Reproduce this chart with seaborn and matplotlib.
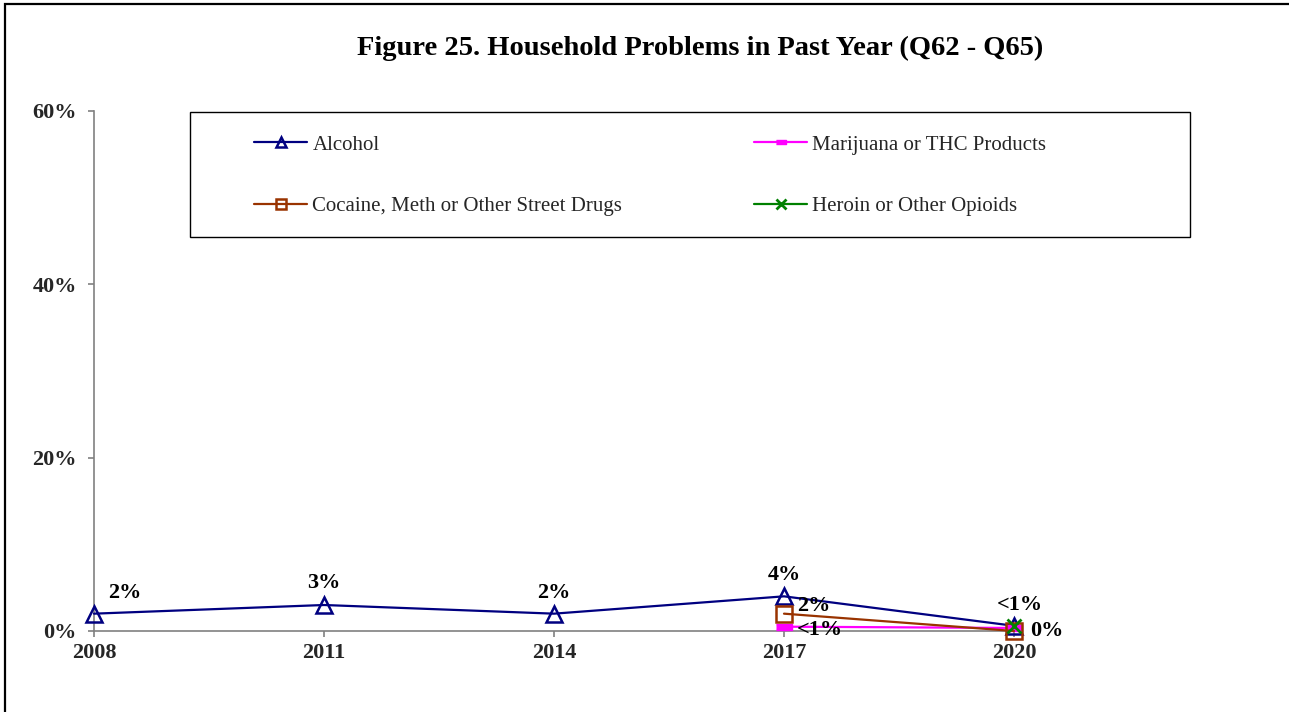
import matplotlib
matplotlib.use("Agg")
import matplotlib.pyplot as plt
from matplotlib.patches import Rectangle
from matplotlib.lines import Line2D
import seaborn as sns
import pandas as pd

# Survey years and percentage of households reporting each problem
years = [2008, 2011, 2014, 2017, 2020]
alcohol = [2.0, 3.0, 2.0, 4.0, 0.6]
marijuana_years = [2017, 2020]
marijuana = [0.5, 0.35]
cocaine_years = [2017, 2020]
cocaine = [2.0, 0.0]
heroin_years = [2020]
heroin = [0.6]

series_names = ["Alcohol", "Marijuana or THC Products",
                "Cocaine, Meth or Other Street Drugs", "Heroin or Other Opioids"]
y_ticks = [0, 20, 40, 60]
title = "Figure 25. Household Problems in Past Year (Q62 - Q65)"

alcohol_labels = ["2%", "3%", "2%", "4%", "<1%"]
cocaine_labels = {2017: "2%", 2020: "0%"}
marijuana_labels = {2017: "<1%"}

sns.set_theme(style="white")
plt.rcParams["font.family"] = ["Liberation Serif", "DejaVu Serif"]

W, H = 1289, 712
fig = plt.figure(figsize=(W / 100, H / 100), dpi=100)
fig.patch.set_facecolor("white")

def fx(px):
    return px / W

def fy(py):
    return 1 - py / H

ax = fig.add_axes([fx(94), fy(631), fx(1014) - fx(94), fy(111) - fy(631)])

frames = {
    "Alcohol": pd.DataFrame({"year": years, "pct": alcohol}),
    "Marijuana or THC Products": pd.DataFrame({"year": marijuana_years, "pct": marijuana}),
    "Cocaine, Meth or Other Street Drugs": pd.DataFrame({"year": cocaine_years, "pct": cocaine}),
    "Heroin or Other Opioids": pd.DataFrame({"year": heroin_years, "pct": heroin}),
}

# Flat bar-shaped marker for the marijuana series
flat_bar = [(-1, -0.35), (1, -0.35), (1, 0.35), (-1, 0.35)]

styles = {
    "Alcohol": dict(color="#000080", marker="^", markersize=12,
                    markerfacecolor="none", markeredgecolor="#000080",
                    markeredgewidth=1.8),
    "Marijuana or THC Products": dict(color="#FF00FF", marker=flat_bar, markersize=11,
                                      markerfacecolor="#FF00FF",
                                      markeredgecolor="#FF00FF", markeredgewidth=1.0),
    "Cocaine, Meth or Other Street Drugs": dict(color="#993300", marker="s", markersize=12,
                                                markerfacecolor="none",
                                                markeredgecolor="#993300",
                                                markeredgewidth=1.8),
    "Heroin or Other Opioids": dict(color="#008000", marker="x", markersize=10,
                                    markeredgecolor="#008000", markeredgewidth=2.0),
}

for name in series_names:
    sns.lineplot(data=frames[name], x="year", y="pct", ax=ax, linewidth=1.6,
                 legend=False, clip_on=False, zorder=3, **styles[name])

ax.set_xlim(years[0], years[-1])
ax.set_ylim(0, 60)
ax.set_xticks(years)
ax.set_xticklabels([str(y) for y in years])
ax.set_yticks(y_ticks)
ax.set_yticklabels([f"{t}%" for t in y_ticks])
ax.set_xlabel("")
ax.set_ylabel("")

for side in ["top", "right"]:
    ax.spines[side].set_visible(False)
for side in ["left", "bottom"]:
    ax.spines[side].set_color("#808080")
    ax.spines[side].set_linewidth(1.2)
ax.tick_params(axis="both", which="major", direction="out", length=4.5, width=1.2,
               color="#808080", labelsize=16, left=True, bottom=True)
ax.tick_params(axis="y", pad=8)
ax.tick_params(axis="x", pad=4.5)
for lab in ax.get_xticklabels() + ax.get_yticklabels():
    lab.set_fontweight("bold")

def label(x, y, text, dx, dy, ha="center"):
    ax.annotate(text, (x, y), xytext=(dx, dy), textcoords="offset pixels",
                ha=ha, va="center", fontsize=16, fontweight="bold",
                color="black", annotation_clip=False, zorder=5)

alcohol_offsets = [(31, 21, "center"), (0, 22, "center"), (0, 21, "center"),
                   (0, 21, "center"), (6, 21, "center")]
for yr, v, t, (dx, dy, ha) in zip(years, alcohol, alcohol_labels, alcohol_offsets):
    label(yr, v, t, dx, dy, ha)
for yr, v in zip(cocaine_years, cocaine):
    if yr == 2017:
        label(yr, v, cocaine_labels[yr], 13, 8, "left")
    else:
        label(yr, v, cocaine_labels[yr], 16, 0, "left")
for yr, v in zip(marijuana_years, marijuana):
    if yr in marijuana_labels:
        label(yr, v, marijuana_labels[yr], 13, -3, "left")

# Legend: framed box with two columns of entries
fig.patches.append(Rectangle((fx(190), fy(237)), fx(1190) - fx(190), fy(112) - fy(237),
                             transform=fig.transFigure, fill=False,
                             edgecolor="black", linewidth=1.0, zorder=1))

def handle(name):
    return Line2D([], [], linewidth=1.6, **styles[name])

leg_kw = dict(frameon=False, fontsize=15, handlelength=2.55, handletextpad=0.25,
              labelspacing=2.0, borderpad=0, borderaxespad=0, loc="upper left",
              bbox_transform=fig.transFigure, markerscale=0.65)
leg1 = fig.legend([handle(series_names[0]), handle(series_names[2])],
                  [series_names[0], series_names[2]],
                  bbox_to_anchor=(fx(254), fy(135)), **leg_kw)
leg2 = fig.legend([handle(series_names[1]), handle(series_names[3])],
                  [series_names[1], series_names[3]],
                  bbox_to_anchor=(fx(754), fy(135)), **leg_kw)

fig.text(fx(700), fy(48), title, ha="center", va="center",
         fontsize=20.5, fontweight="bold", color="black")

# Outer chart border
fig.patches.append(Rectangle((fx(5), -0.05), 1.2, fy(4) + 0.05,
                             transform=fig.transFigure, fill=False,
                             edgecolor="black", linewidth=1.6, zorder=0))

fig.savefig("out.png", dpi=100, facecolor="white")
